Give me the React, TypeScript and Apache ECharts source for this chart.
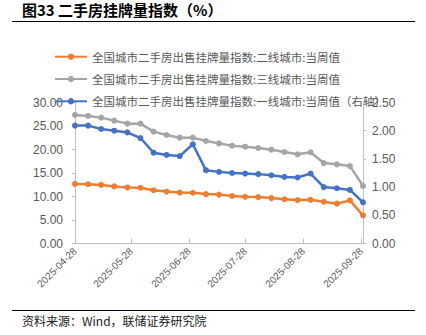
import React, { useEffect, useRef } from "react";
import * as echarts from "echarts";

const dates = [
  "2025-04-28", "2025-05-05", "2025-05-12", "2025-05-19", "2025-05-26", "2025-06-02",
  "2025-06-09", "2025-06-16", "2025-06-23", "2025-06-30", "2025-07-07", "2025-07-14",
  "2025-07-21", "2025-07-28", "2025-08-04", "2025-08-11", "2025-08-18", "2025-08-25",
  "2025-09-01", "2025-09-08", "2025-09-15", "2025-09-22", "2025-09-29",
];
const tier2 = [12.68, 12.61, 12.47, 12.15, 11.93, 11.86, 11.33, 11.04, 10.83, 10.8, 10.51, 10.4, 10.12, 9.94, 9.87, 9.66, 9.42, 9.23, 9.3, 8.88, 8.48, 9.16, 6.0];
const tier3 = [27.36, 27.14, 26.78, 26.14, 25.5, 25.5, 23.8, 23.09, 22.52, 22.52, 21.81, 21.3, 20.81, 20.6, 20.32, 19.96, 19.47, 18.98, 19.4, 17.12, 16.84, 16.48, 12.25];
const tier1 = [2.09, 2.09, 2.03, 2.0, 1.97, 1.87, 1.61, 1.57, 1.55, 1.76, 1.3, 1.27, 1.25, 1.24, 1.23, 1.21, 1.18, 1.17, 1.24, 1.0, 0.98, 0.95, 0.73];
const tickDates = ["2025-04-28", "2025-05-28", "2025-06-28", "2025-07-28", "2025-08-28", "2025-09-28"];
const names = [
  "全国城市二手房出售挂牌量指数:二线城市:当周值",
  "全国城市二手房出售挂牌量指数:三线城市:当周值",
  "全国城市二手房出售挂牌量指数:一线城市:当周值（右轴）",
];

const DAY = 86400000;
const ts = (s: string) => {
  const [y, m, d] = s.split("-").map(Number);
  return Date.UTC(y, m - 1, d);
};
const base = ts(dates[0]);
const dayOf = (s: string) => Math.round((ts(s) - base) / DAY);
const fmt = (dayNum: number) => {
  const d = new Date(base + Math.round(dayNum) * DAY);
  const p = (n: number) => (n < 10 ? "0" + n : "" + n);
  return d.getUTCFullYear() + "-" + p(d.getUTCMonth() + 1) + "-" + p(d.getUTCDate());
};

export default function App() {
  const ref = useRef<HTMLDivElement>(null);
  useEffect(() => {
    const chart = echarts.init(ref.current!, null, { renderer: "svg" });
    const labelColor = "#595959";
    const axisColor = "#BFBFBF";
    const font = "'Liberation Sans', Arial, sans-serif";
    const mk = (vals: number[]) => dates.map((d, i) => [dayOf(d), vals[i]]);
    const tickVals = tickDates.map(dayOf);
    chart.setOption({
      animation: false,
      backgroundColor: "#ffffff",
      textStyle: { fontFamily: "'Noto Sans CJK SC', sans-serif" },
      graphic: [
        {
          type: "text",
          left: 22,
          top: 2,
          style: {
            text: "图33 二手房挂牌量指数（%）",
            font: "bold 15px 'Noto Sans CJK SC', sans-serif",
            fill: "#000",
          },
        },
        { type: "line", shape: { x1: 12, y1: 21.5, x2: 415, y2: 21.5 }, style: { stroke: "#000", lineWidth: 1 } },
        { type: "line", shape: { x1: 12, y1: 310.5, x2: 415, y2: 310.5 }, style: { stroke: "#000", lineWidth: 1 } },
        {
          type: "text",
          left: 22,
          top: 314,
          style: {
            text: "资料来源：Wind，联储证券研究院",
            font: "12px 'Noto Sans CJK SC', sans-serif",
            fill: "#222",
          },
        },
      ],
      legend: {
        orient: "vertical",
        left: 49,
        top: 44.7,
        itemWidth: 32,
        itemHeight: 8,
        itemGap: 8.3,
        data: names,
        textStyle: { color: labelColor, fontSize: 11.5, lineHeight: 14, fontFamily: "'Noto Sans CJK SC', sans-serif" },
      },
      grid: { left: 75, right: 63, top: 102.5, bottom: 91.5, containLabel: false },
      xAxis: {
        type: "value",
        min: 0,
        max: dayOf(dates[dates.length - 1]),
        axisLine: { show: true, lineStyle: { color: axisColor, width: 1 } },
        axisTick: { show: true, inside: true, length: 5, lineStyle: { color: axisColor }, customValues: tickVals },
        axisLabel: {
          customValues: tickVals,
          formatter: (v: number) => fmt(v),
          rotate: 45,
          color: labelColor,
          fontSize: 10,
          fontFamily: font,
          margin: 6,
          hideOverlap: false,
        },
        splitLine: { show: false },
      },
      yAxis: [
        {
          type: "value",
          min: 0,
          max: 30,
          interval: 5,
          axisLine: { show: true, lineStyle: { color: axisColor } },
          axisTick: { show: true, length: 3, lineStyle: { color: axisColor } },
          axisLabel: { formatter: (v: number) => v.toFixed(2), color: labelColor, fontSize: 12, fontFamily: font, margin: 12 },
          splitLine: { show: false },
        },
        {
          type: "value",
          min: 0,
          max: 2.5,
          interval: 0.5,
          position: "right",
          axisLine: { show: true, lineStyle: { color: axisColor } },
          axisTick: { show: true, length: 3, lineStyle: { color: axisColor } },
          axisLabel: { formatter: (v: number) => v.toFixed(2), color: labelColor, fontSize: 12, fontFamily: font, margin: 9 },
          splitLine: { show: false },
        },
      ],
      series: [
        {
          name: names[0],
          type: "line",
          data: mk(tier2),
          yAxisIndex: 0,
          symbol: "circle",
          symbolSize: 6,
          color: "#ED7D31",
          lineStyle: { width: 2.5 },
        },
        {
          name: names[1],
          type: "line",
          data: mk(tier3),
          yAxisIndex: 0,
          symbol: "circle",
          symbolSize: 6,
          color: "#A5A5A5",
          lineStyle: { width: 2.5 },
        },
        {
          name: names[2],
          type: "line",
          data: mk(tier1),
          yAxisIndex: 1,
          symbol: "circle",
          symbolSize: 6,
          color: "#4472C4",
          lineStyle: { width: 2.5 },
        },
      ],
    });
    return () => chart.dispose();
  }, []);
  return <div ref={ref} style={{ position: "fixed", left: 0, top: 0, width: 426, height: 335 }} />;
}
